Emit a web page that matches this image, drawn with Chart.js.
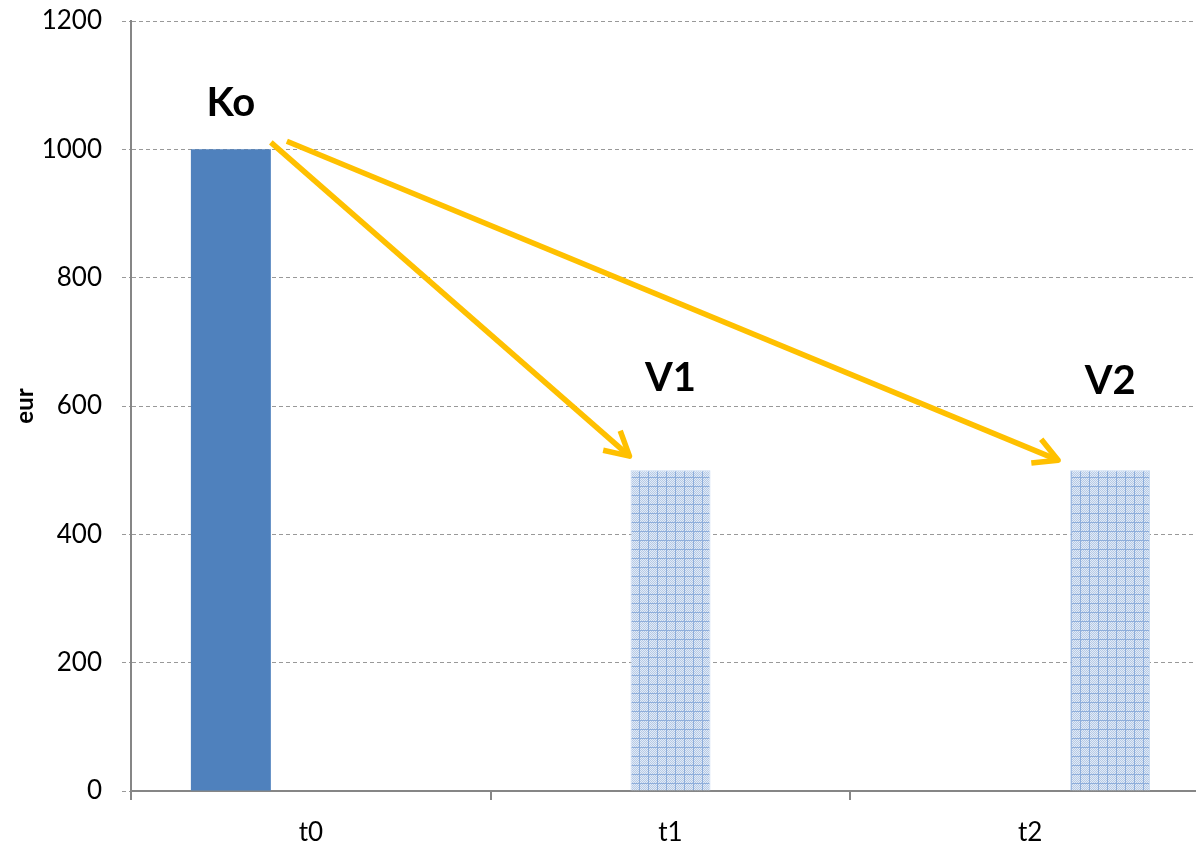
<!DOCTYPE html>
<html>
<head>
<meta charset="utf-8">
<script src="https://cdn.jsdelivr.net/npm/chart.js@4"></script>
<style>
  html, body { margin: 0; padding: 0; background: #fff; overflow: hidden; }
  #wrap { width: 1210px; height: 847px; }
</style>
</head>
<body>
<div id="wrap"><canvas id="chart"></canvas></div>
<script>
// Data
const categories = ["t0", "t1", "t2"];
const seriesNames = ["Ko", "V1", "V2"];
const koValues = [1000, null, null];
const v1Values = [null, 500, null];
const v2Values = [null, null, 500];
const yTicks = [0, 200, 400, 600, 800, 1000, 1200];

// crosshatch fill for the future values
function makePattern() {
    const c = document.createElement("canvas");
    c.width = 9; c.height = 9;
    const g = c.getContext("2d");
    g.fillStyle = "#e3ebf6";
    g.fillRect(0, 0, 9, 9);
    g.fillStyle = "#b4c9e6";
    for (let y = 0; y < 9; y++) {
        for (let x = 0; x < 9; x++) {
            if ((x + y) % 2 === 0) g.fillRect(x, y, 1, 1);
        }
    }
    g.fillStyle = "#8eaedb";
    g.fillRect(0, 0, 1, 9);
    g.fillRect(0, 0, 9, 1);
    return g.createPattern(c, "repeat");
}

const ctx = document.getElementById("chart").getContext("2d");
const hatch = makePattern();

// names above the bars
const barNames = {
    id: "barNames",
    afterDatasetsDraw(chart, args, opts) {
        const c = chart.ctx;
        c.save();
        c.font = "bold 40px Lato";
        c.fillStyle = "#000";
        c.textAlign = "center";
        c.textBaseline = "middle";
        chart.data.datasets.forEach((ds, i) => {
            chart.getDatasetMeta(i).data.forEach((bar, j) => {
                if (ds.data[j] == null) return;
                c.fillText(ds.label, bar.x, bar.y + opts.offsets[i]);
            });
        });
        c.restore();
    }
};

// arrows from Ko to V1 / V2
function drawArrow(c, x1, y1, x2, y2) {
    const ang = Math.atan2(y2 - y1, x2 - x1);
    const len = 27, spread = 0.5;
    c.beginPath();
    c.moveTo(x1, y1);
    c.lineTo(x2 - Math.cos(ang) * 2, y2 - Math.sin(ang) * 2);
    c.stroke();
    c.beginPath();
    c.moveTo(x2 - len * Math.cos(ang - spread), y2 - len * Math.sin(ang - spread));
    c.lineTo(x2, y2);
    c.lineTo(x2 - len * Math.cos(ang + spread), y2 - len * Math.sin(ang + spread));
    c.stroke();
}

const arrows = {
    id: "arrows",
    afterDatasetsDraw(chart, args, opts) {
        const c = chart.ctx;
        const from = chart.getDatasetMeta(0).data[0];
        c.save();
        c.strokeStyle = "#ffc000";
        c.lineWidth = 5.5;
        c.lineJoin = "round";
        opts.list.forEach(a => {
            const to = chart.getDatasetMeta(a.to).data[a.to];
            drawArrow(c,
                from.x + from.width / 2 + a.sx, from.y + a.sy,
                to.x - to.width / 2 + a.ex, to.y + a.ey);
        });
        c.restore();
    }
};

new Chart(ctx, {
    type: "bar",
    data: {
        labels: categories,
        datasets: [
            { label: seriesNames[0], data: koValues, backgroundColor: "#4f81bd" },
            { label: seriesNames[1], data: v1Values, backgroundColor: hatch, borderColor: "#c6d9f1", borderWidth: 1 },
            { label: seriesNames[2], data: v2Values, backgroundColor: hatch, borderColor: "#c6d9f1", borderWidth: 1 }
        ]
    },
    options: {
        responsive: true,
        maintainAspectRatio: false,
        animation: false,
        layout: { padding: 0 },
        datasets: { bar: { categoryPercentage: 0.667, barPercentage: 1 } },
        plugins: {
            legend: { display: false },
            tooltip: { enabled: false },
            barNames: { offsets: [-46, -92, -89] },
            arrows: {
                list: [
                    { to: 1, sx: 0, sy: -7, ex: -1, ey: -14 },
                    { to: 2, sx: 16, sy: -8, ex: -12, ey: -10 }
                ]
            }
        },
        scales: {
            x: {
                grid: {
                    offset: true,
                    drawOnChartArea: false,
                    drawTicks: true,
                    tickLength: 9,
                    color: "#868686",
                    lineWidth: 2
                },
                border: { display: true, color: "#868686", width: 2 },
                ticks: {
                    color: "#000",
                    font: { family: "Lato", size: 26 },
                    padding: 17
                },
                afterFit(scale) { scale.height = 56; }
            },
            y: {
                min: 0,
                max: 1200,
                afterBuildTicks(scale) { scale.ticks = yTicks.map(v => ({ value: v })); },
                grid: {
                    color: "#999999",
                    lineWidth: 1,
                    tickLength: 9,
                    drawTicks: true,
                    tickBorderDash: [4, 3]
                },
                border: { display: true, color: "#868686", width: 2, dash: [4, 3] },
                ticks: {
                    color: "#000",
                    font: { family: "Lato", size: 26 },
                    padding: 20,
                    callback: v => String(v)
                },
                title: {
                    display: true,
                    text: "eur",
                    color: "#000",
                    font: { family: "Lato", size: 24, weight: "bold" },
                    padding: { top: 11, bottom: 0 }
                },
                afterFit(scale) {
                    scale.width = 131;
                    scale.paddingTop = 21;
                }
            }
        }
    },
    plugins: [barNames, arrows]
});
</script>
</body>
</html>
